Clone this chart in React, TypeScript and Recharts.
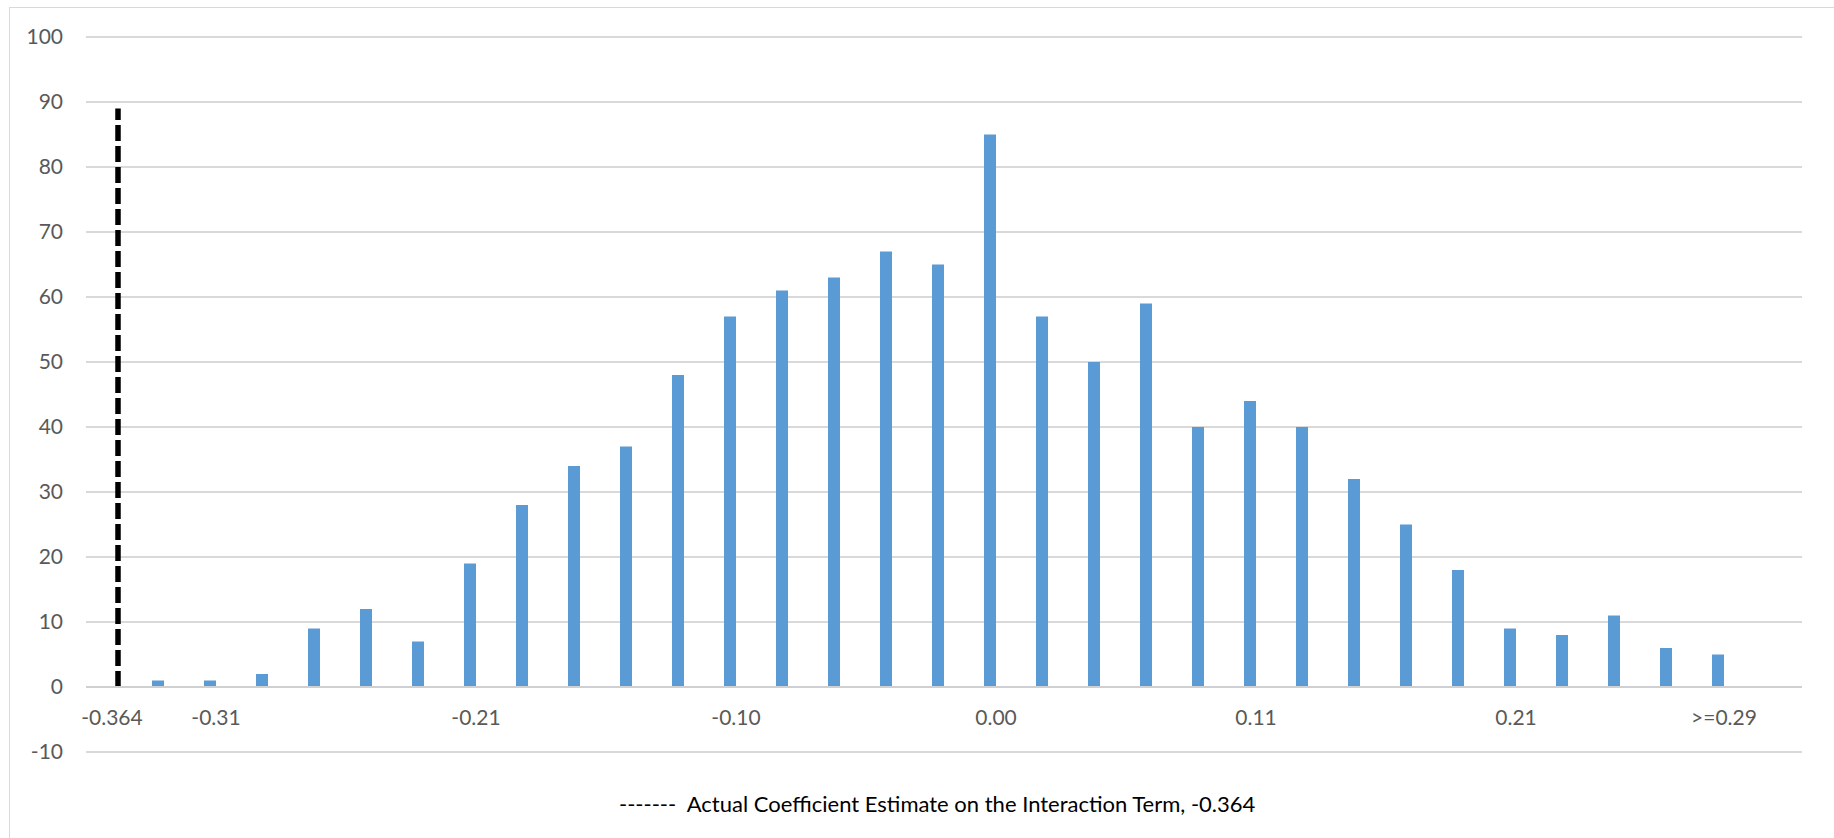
import React from "react";
import { ComposedChart, Bar, XAxis, YAxis, CartesianGrid, ReferenceLine } from "recharts";

// category labels (blank ones are unlabelled bins)
const binLabels = [
  "-0.364", "", "-0.31", "", "", "", "", "-0.21", "", "", "", "", "-0.10", "", "", "", "",
  "0.00", "", "", "", "", "0.11", "", "", "", "", "0.21", "", "", "", ">=0.29", "",
];

// simulated coefficient counts per bin
const counts = [
  null, 1, 1, 2, 9, 12, 7, 19, 28, 34, 37, 48, 57, 61, 63, 67, 65, 85, 57, 50, 59,
  40, 44, 40, 32, 25, 18, 9, 8, 11, 6, 5, null,
];

// dashed marker for the actual estimate
const actualIndex = 0;
const actualHeight = 89;

const yTicks = [-10, 0, 10, 20, 30, 40, 50, 60, 70, 80, 90, 100];

const data = binLabels.map((label, i) => ({
  id: `c${i}`,
  label,
  count: counts[i],
  actual: i === actualIndex ? actualHeight : null,
}));

const FONT = "Lato, 'Open Sans', sans-serif";

const DashedMarker = (props: any) => {
  const { x, y, width, height } = props;
  if (!height) return null;
  const cx = x + width / 2;
  return (
    <line x1={cx} x2={cx} y1={y + height} y2={y} stroke="#000" strokeWidth={5.5} strokeDasharray="16 5" />
  );
};

const XTick = (props: any) => {
  const { x, y, index } = props;
  return (
    <text x={x} y={y - 34} dy="0.355em" textAnchor="middle" fill="#595959" fontSize={21} fontFamily={FONT}>
      {binLabels[index]}
    </text>
  );
};

export default function App() {
  return (
    <div style={{ position: "absolute", left: 0, top: 0, width: 1834, height: 838, overflow: "hidden", background: "#fff" }}>
      <div
        style={{
          position: "absolute", left: 9, top: 7, width: 1900, height: 900,
          borderLeft: "1.5px solid #d9d9d9", borderTop: "1.5px solid #d9d9d9",
        }}
      />
      <div style={{ position: "absolute", left: 0, top: 0 }}>
        <ComposedChart
          width={1834}
          height={838}
          data={data}
          margin={{ top: 37, right: 32, left: 0, bottom: 56 }}
          barGap={0}
        >
          <CartesianGrid vertical={false} stroke="#d9d9d9" strokeWidth={2} />
          <XAxis
            dataKey="id"
            type="category"
            interval={0}
            height={30}
            tickSize={0}
            tickMargin={0}
            axisLine={false}
            tickLine={false}
            tick={<XTick />}
          />
          <YAxis
            type="number"
            domain={[-10, 100]}
            ticks={yTicks}
            width={86}
            tickSize={0}
            tickMargin={23}
            axisLine={false}
            tickLine={false}
            tick={{ fill: "#595959", fontSize: 21, fontFamily: FONT }}
          />
          <ReferenceLine y={0} stroke="#d0d0d0" strokeWidth={2} />
          <Bar dataKey="count" fill="#5b9bd5" barSize={12} isAnimationActive={false} />
          <Bar dataKey="actual" barSize={12} shape={<DashedMarker />} isAnimationActive={false} />
        </ComposedChart>
      </div>
      <div
        style={{
          position: "absolute", left: 619, top: 791, whiteSpace: "pre",
          fontFamily: FONT, fontSize: 22, lineHeight: "26px", color: "#000",
        }}
      >
        {"-------  Actual Coefficient Estimate on the Interaction Term, -0.364"}
      </div>
    </div>
  );
}
